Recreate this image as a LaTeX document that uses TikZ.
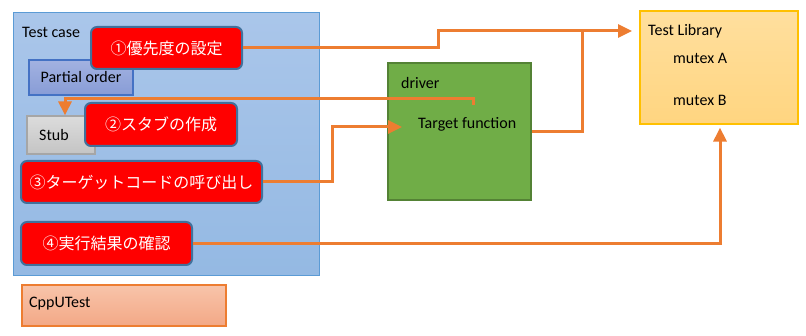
\documentclass[tikz,border=0pt]{standalone}
\usepackage{fontspec}
\setmainfont{Carlito}
\newfontfamily\jpfont{Noto Sans CJK JP}
\usetikzlibrary{arrows.meta,calc}

\definecolor{flowc}{RGB}{237,125,49}
\definecolor{stepfill}{RGB}{255,0,0}
\definecolor{stepline}{RGB}{65,113,156}

\tikzset{
  every node/.style={inner sep=0pt, font=\fontsize{16}{19}\selectfont},
  casebox/.style={draw={rgb,255:red,91;green,155;blue,213}, line width=1pt,
    top color={rgb,255:red,170;green,198;blue,234}, bottom color={rgb,255:red,148;green,185;blue,227}},
  orderbox/.style={draw={rgb,255:red,68;green,114;blue,196}, line width=1.2pt,
    top color={rgb,255:red,162;green,178;blue,225}, bottom color={rgb,255:red,136;green,156;blue,214}},
  stubbox/.style={draw={rgb,255:red,166;green,166;blue,166}, line width=1.2pt,
    top color={rgb,255:red,220;green,220;blue,220}, bottom color={rgb,255:red,196;green,196;blue,196}},
  stepbox/.style={draw=stepline, fill=stepfill, line width=2pt, rounded corners=6pt,
    text=white, font=\jpfont\fontsize{16}{19}\selectfont},
  drivebox/.style={draw={rgb,255:red,84;green,130;blue,53}, line width=1.5pt,
    fill={rgb,255:red,112;green,173;blue,71}},
  libbox/.style={draw={rgb,255:red,255;green,192;blue,0}, line width=1.2pt,
    top color={rgb,255:red,255;green,223;blue,158}, bottom color={rgb,255:red,255;green,213;blue,128}},
  frameworkbox/.style={draw=flowc, line width=1.2pt,
    top color={rgb,255:red,248;green,196;blue,170}, bottom color={rgb,255:red,243;green,168;blue,134}},
  tag/.style={anchor=west, text=black},
  wire/.style={draw=flowc, line width=3pt},
  flow/.style={wire, -{Triangle[length=14pt,width=13pt]}},
}

\begin{document}
\begin{tikzpicture}[x=1pt,y=-1pt]
\useasboundingbox (0,0) rectangle (806,336);

% test case frame and its contents
\node[casebox, minimum width=306pt, minimum height=263pt] (tcase) at (166,144.5) {};
\node[tag] (tcasetxt) at (22,32) {Test case};
\node[orderbox, minimum width=104pt, minimum height=35pt] (porder) at (81,77.5) {Partial order};
\node[stepbox, minimum width=151pt, minimum height=42pt] (p1) at (166.5,48) {①優先度の設定};
\node[stubbox, minimum width=68pt, minimum height=38pt] (stub) at (61,135) {};
\node[tag] (stubtxt) at (39,135) {Stub};
\node[stepbox, minimum width=152pt, minimum height=43pt] (p2) at (161,124.5) {②スタブの作成};
\node[stepbox, minimum width=241pt, minimum height=42pt] (p3) at (141.5,182) {③ターゲットコードの呼び出し};
\node[stepbox, minimum width=171pt, minimum height=43pt] (p4) at (106.5,243.5) {④実行結果の確認};

% framework
\node[frameworkbox, minimum width=204pt, minimum height=41pt] (cpp) at (124,305.5) {};
\node[tag] (cpptxt) at (29,304) {CppUTest};

% driver under test
\node[drivebox, minimum width=143pt, minimum height=137pt] (driver) at (459.5,131.5) {};
\node[tag] (drivertxt) at (401,83) {driver};
\node[tag] (tf) at (418,124) {Target function};

% test library
\node[libbox, minimum width=158pt, minimum height=113pt] (tlib) at (719,67.5) {};
\node[tag] (tlibtxt) at (648,31) {Test Library};
\node[tag] (mxa) at (673,58) {mutex A};
\node[tag] (mxb) at (673,100) {mutex B};

% connector end points
\coordinate (libin) at (632,31);
\coordinate (join) at (582,31);
\coordinate (tfout) at (473,105);
\coordinate (tfin) at (402,127);

% connectors
\draw[flow] (p1.east) -- ++(195,0) |- (libin);
\draw[wire] (driver.east) -| (join);
\draw[flow] (tfout) |- ($(stub.north)+(4,-17)$) -- ($(stub.north)+(4,0)$);
\draw[flow] (p3.east) -- ++(69,0) |- (tfin);
\draw[flow] (p4.east) -| ($(tlib.south)+(1,3)$);
\end{tikzpicture}
\end{document}
